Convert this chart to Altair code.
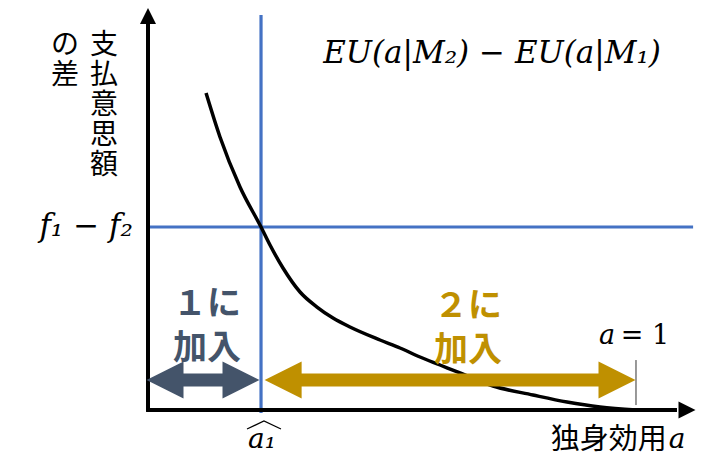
import altair as alt
import pandas as pd

# ---- data (a = utility, v = WTP difference; f1-f2 level = 1, a=1 end) ----
curve_a = [0.1189, 0.1475, 0.1885, 0.2316, 0.2500, 0.2766, 0.3115, 0.3463, 0.3791,
           0.4139, 0.4754, 0.5164, 0.5574, 0.5984, 0.6393, 0.7070, 0.7889, 0.8586,
           0.9262, 1.0]
curve_v = [1.7322, 1.4918, 1.2186, 1.0, 0.9016, 0.7760, 0.6448, 0.5628, 0.5027,
           0.4536, 0.3825, 0.3388, 0.2896, 0.2459, 0.2022, 0.1311, 0.0820, 0.0437,
           0.0164, 0.0]
a_hat = 0.2316          # threshold \hat{a}_1
f_diff = 1.0            # f1 - f2 level
a_end = 1.0
y_top = 2.109           # y-axis arrow base
x_right = 1.084         # x-axis arrow base
arrow_v = 0.164         # height of the double arrows
blue_top = 2.158
blue_right = 1.117

W, H = 705, 449
xs = alt.Scale(domain=[-0.28689, 1.15779], nice=False, zero=False)
ys = alt.Scale(domain=[-0.25683, 2.19672], nice=False, zero=False)

def X(f="a"):
    return alt.X(f"{f}:Q", scale=xs, axis=None)

def Y(f="v"):
    return alt.Y(f"{f}:Q", scale=ys, axis=None)

DARK = "#44546A"
GOLD = "#BF9000"
BLUE = "#4472C4"
MATH = "DejaVu Serif"
CJK = "Noto Sans CJK JP"

layers = []

# blue lines
layers.append(alt.Chart(pd.DataFrame({"a": [a_hat], "v": [-0.016], "v2": [blue_top]}))
              .mark_rule(color=BLUE, strokeWidth=3.2)
              .encode(x=X(), y=Y(), y2="v2:Q"))
layers.append(alt.Chart(pd.DataFrame({"a": [0.0], "a2": [blue_right], "v": [f_diff]}))
              .mark_rule(color=BLUE, strokeWidth=3.2)
              .encode(x=X(), x2="a2:Q", y=Y()))

# curve
layers.append(alt.Chart(pd.DataFrame({"a": curve_a, "v": curve_v}))
              .mark_line(color="black", strokeWidth=3.5, interpolate="monotone")
              .encode(x=X(), y=Y()))

# axes
layers.append(alt.Chart(pd.DataFrame({"a": [0.0], "v": [-0.005], "v2": [y_top]}))
              .mark_rule(color="black", strokeWidth=4)
              .encode(x=X(), y=Y(), y2="v2:Q"))
layers.append(alt.Chart(pd.DataFrame({"a": [-0.004], "a2": [x_right], "v": [0.0]}))
              .mark_rule(color="black", strokeWidth=4)
              .encode(x=X(), x2="a2:Q", y=Y()))
layers.append(alt.Chart(pd.DataFrame({"a": [0.0], "v": [2.153]}))
              .mark_point(shape="M0,-1L1,1L-1,1Z", size=256, filled=True, opacity=1,
                          color="black", strokeWidth=0)
              .encode(x=X(), y=Y()))
layers.append(alt.Chart(pd.DataFrame({"a": [1.1045], "v": [0.0]}))
              .mark_point(shape="M1,0L-1,-1L-1,1Z", size=289, filled=True, opacity=1,
                          color="black", strokeWidth=0)
              .encode(x=X(), y=Y()))

# a = 1 tick
layers.append(alt.Chart(pd.DataFrame({"a": [a_end], "v": [0.027], "v2": [0.273]}))
              .mark_rule(color="#333333", strokeWidth=1)
              .encode(x=X(), y=Y(), y2="v2:Q"))

# double arrows
head_len = 36 / 488.0
def double_arrow(a0, a1, color):
    out = []
    out.append(alt.Chart(pd.DataFrame({"a": [a0 + head_len * 0.9], "a2": [a1 - head_len * 0.9], "v": [arrow_v]}))
               .mark_rule(color=color, strokeWidth=13)
               .encode(x=X(), x2="a2:Q", y=Y()))
    out.append(alt.Chart(pd.DataFrame({"a": [a1 - head_len / 2], "v": [arrow_v]}))
               .mark_point(shape="M1,0L-1,-1L-1,1Z", size=1369, filled=True, opacity=1,
                           color=color, strokeWidth=0)
               .encode(x=X(), y=Y()))
    out.append(alt.Chart(pd.DataFrame({"a": [a0 + head_len / 2], "v": [arrow_v]}))
               .mark_point(shape="M-1,0L1,-1L1,1Z", size=1369, filled=True, opacity=1,
                           color=color, strokeWidth=0)
               .encode(x=X(), y=Y()))
    return out

layers += double_arrow(-0.002, 0.2275, DARK)
layers += double_arrow(0.240, 0.998, GOLD)

# hat over a_1
layers.append(alt.Chart(pd.DataFrame({"a": [a_hat - 0.0287, a_hat + 0.006, a_hat + 0.0409],
                                      "v": [-0.1038, -0.0601, -0.1038]}))
              .mark_line(color="black", strokeWidth=1.3)
              .encode(x=X(), y=Y()))

def text(a, v, t, **kw):
    return (alt.Chart(pd.DataFrame({"a": [a], "v": [v], "t": [t]}))
            .mark_text(**kw)
            .encode(x=X(), y=Y(), text="t:N"))

layers.append(text(0.705, 1.945, "EU(a|M₂) − EU(a|M₁)", font=MATH, fontStyle="italic",
                   fontSize=31, color="black", align="center", baseline="middle"))
layers.append(text(-0.031, 1.0, "f₁ − f₂", font=MATH, fontStyle="italic",
                   fontSize=31, color="black", align="right", baseline="middle"))
layers.append(text(-0.0902, 2.065, "支\n払\n意\n思\n額", font=CJK, fontSize=28,
                   lineHeight=30, lineBreak="\n", color="black", align="center", baseline="top"))
layers.append(text(-0.1701, 2.065, "の\n差", font=CJK, fontSize=28,
                   lineHeight=30, lineBreak="\n", color="black", align="center", baseline="top"))
layers.append(text(0.1209, 0.574, "１に\n加入", font=CJK, fontSize=34, fontWeight="bold",
                   lineHeight=44, lineBreak="\n", color=DARK, align="center", baseline="middle"))
layers.append(text(0.6557, 0.563, "２に\n加入", font=CJK, fontSize=34, fontWeight="bold",
                   lineHeight=44, lineBreak="\n", color=GOLD, align="center", baseline="middle"))
layers.append(text(0.957, 0.404, "a", font=MATH, fontStyle="italic",
                   fontSize=27, color="black", align="right", baseline="middle"))
layers.append(text(0.969, 0.404, "= 1", font=MATH,
                   fontSize=27, color="black", align="left", baseline="middle"))
layers.append(text(0.2336, -0.164, "a₁", font=MATH, fontStyle="italic",
                   fontSize=28, color="black", align="center", baseline="middle"))
layers.append(text(1.063, -0.164, "独身効用", font=CJK, fontSize=29,
                   color="black", align="right", baseline="middle"))
layers.append(text(1.067, -0.164, "a", font=MATH, fontStyle="italic",
                   fontSize=28, color="black", align="left", baseline="middle"))

chart = (alt.layer(*layers)
         .properties(width=W, height=H, padding=0, autosize=alt.AutoSizeParams(type="none"))
         .configure_view(stroke=None))

chart.save("out.html", embed_options={"renderer": "svg", "actions": False})
